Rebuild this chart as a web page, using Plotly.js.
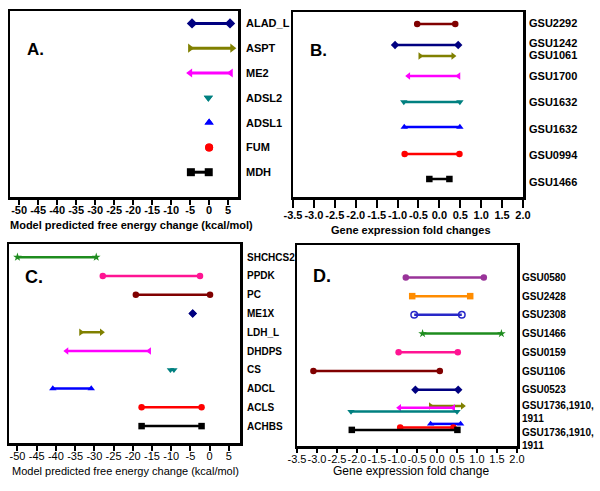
<!DOCTYPE html>
<html><head><meta charset="utf-8">
<script src="https://cdn.plot.ly/plotly-3.0.1.min.js"></script>
<style>html,body{margin:0;padding:0;background:#fff}#chart{width:600px;height:491px}</style>
</head><body><div id="chart"></div>
<script>
// ---------- Panel A: model predicted free energy change (kcal/mol) ----------
const aLabels = ['ALAD_L','ASPT','ME2','ADSL2','ADSL1','FUM','MDH'];
const aLow  = [-4.5, -5.0, -5.0, -0.2, 0.0, 0.0, -4.8];
const aHigh = [ 5.5,  6.1,  5.7, -0.2, 0.0, 0.0, -0.1];
const aRows = [7, 6, 5, 4, 3, 2, 1];

// ---------- Panel B: gene expression fold changes ----------
const bLabels = ['GSU2292','GSU1242','GSU1061','GSU1700','GSU1632','GSU1632','GSU0994','GSU1466'];
const bLow  = [-0.53, -1.06, -0.46, -0.74, -0.85, -0.84, -0.83, -0.24];
const bHigh = [ 0.38,  0.45,  0.33,  0.46,  0.49,  0.49,  0.48,  0.24];
const bRows = [7.2, 6.36, 5.92, 5.12, 4.08, 3.08, 2.0, 1.0];
const bLabelRows = [7.24, 6.43, 5.97, 5.12, 4.08, 3.0, 1.96, 0.88];

// ---------- Panel C: model predicted free energy change (kcal/mol) ----------
const cLabels = ['SHCHCS2','PPDK','PC','ME1X','LDH_L','DHDPS','CS','ADCL','ACLS','ACHBS'];
const cLow  = [-50.0, -27.8, -19.2, -4.4, -33.5, -37.2, -10.2, -40.8, -17.7, -17.7];
const cHigh = [-29.5,  -2.5,   0.1, -4.4, -28.1, -15.7,  -9.3, -30.8,  -2.1,  -2.1];
const cRows = [10, 9, 8, 7, 6, 5, 4, 3, 2, 1];

// ---------- Panel D: gene expression fold change ----------
const dNames = ['GSU0580','GSU2428','GSU2308','GSU1466','GSU0159','GSU1106','GSU0523',
                'GSU1736 a','GSU1910 a','GSU1911 a','GSU1736 b','GSU1910 b','GSU1911 b'];
const dLow  = [-0.78, -0.62, -0.57, -0.36, -0.96, -3.09, -0.54, -0.16, -0.94, -2.15, -0.16, -0.92, -2.13];
const dHigh = [ 1.17,  0.83,  0.62,  1.61,  0.52,  0.07,  0.53,  0.64,  0.41,  0.50,  0.59,  0.41,  0.51];
const dRows = [9, 8, 7, 6, 5, 4, 3, 2.14, 2.04, 1.84, 1.18, 0.99, 0.86];
const dLabels = ['GSU0580','GSU2428','GSU2308','GSU1466','GSU0159','GSU1106','GSU0523',
                 'GSU1736,1910,<br>1911','GSU1736,1910,<br>1911'];
const dLabelRows = [9, 8, 7, 6, 5, 4, 3, 1.81, 0.39];

// ---------- styles ----------
const aColors = ['#000080','#808000','#FF00FF','#008080','#0000FF','#FF0000','#000000'];
const aSymbols = ['diamond','triangle-right','triangle-left','triangle-down','triangle-up','circle','square'];
const bColors = ['#800000','#000080','#808000','#FF00FF','#008080','#0000FF','#FF0000','#000000'];
const bSymbols = ['circle','diamond','triangle-right','triangle-left','triangle-down','triangle-up','circle','square'];
const cColors = ['#1E8C1E','#FF1493','#800000','#000080','#808000','#FF00FF','#008080','#0000FF','#FF0000','#000000'];
const cSymbols = ['star','circle','circle','diamond','triangle-right','triangle-left','triangle-down','triangle-up','circle','square'];
const dColors = ['#993399','#FF8C00','#2828C8','#1E8C1E','#FF1493','#800000','#000080',
                 '#808000','#FF00FF','#008080','#0000FF','#FF0000','#000000'];
const dSymbols = ['circle','square','circle-open','star','circle','circle','diamond',
                  'triangle-right','triangle-left','triangle-down','triangle-up','circle','square'];

const FONT = 'Liberation Sans, Arial, Helvetica, sans-serif';
const W = 600, H = 491;
const traces = [];
const annotations = [];

function addPanel(low, high, rows, colors, symbols, xa, ya, lw, ms) {
  for (let i = 0; i < low.length; i++) {
    traces.push({
      type: 'scatter', mode: 'lines+markers',
      x: [low[i], high[i]], y: [rows[i], rows[i]],
      xaxis: xa, yaxis: ya,
      line: {color: colors[i], width: lw},
      marker: {color: colors[i], symbol: symbols[i], size: ms,
               line: {color: colors[i], width: symbols[i].indexOf('open') >= 0 ? 1.5 : 0}},
      hoverinfo: 'x', showlegend: false
    });
  }
}
function addLabels(labels, rows, yref, xpx, bold, size) {
  for (let i = 0; i < labels.length; i++) {
    annotations.push({
      text: labels[i], xref: 'paper', yref: yref, x: xpx / W, y: rows[i],
      xanchor: 'left', yanchor: 'middle', showarrow: false, align: 'left',
      font: {family: FONT, size: size, color: '#000', weight: bold ? 'bold' : 'normal'}
    });
  }
}
function paperText(text, xpx, ypx, size, bold, anchor) {
  annotations.push({
    text: text, xref: 'paper', yref: 'paper', x: xpx / W, y: 1 - ypx / H,
    xanchor: anchor || 'center', yanchor: 'middle', showarrow: false,
    font: {family: FONT, size: size, color: '#000', weight: bold ? 'bold' : 'normal'}
  });
}

addPanel(aLow, aHigh, aRows, aColors, aSymbols, 'x', 'y', 3, 8);
addPanel(bLow, bHigh, bRows, bColors, bSymbols, 'x2', 'y2', 2.5, 6.5);
addPanel(cLow, cHigh, cRows, cColors, cSymbols, 'x3', 'y3', 2.5, 6.5);
addPanel(dLow, dHigh, dRows, dColors, dSymbols, 'x4', 'y4', 2.5, 6.5);

addLabels(aLabels, aRows, 'y', 244, true, 11);
addLabels(bLabels, bLabelRows, 'y2', 527, true, 11);
addLabels(cLabels, cRows, 'y3', 245, true, 10);
addLabels(dLabels, dLabelRows, 'y4', 520, true, 10);

paperText('A.', 25, 49, 17, true, 'left');
paperText('B.', 308, 50, 17, true, 'left');
paperText('C.', 23, 277, 18, true, 'left');
paperText('D.', 311, 276, 18, true, 'left');
paperText('Model predicted free energy change (kcal/mol)', 131, 225, 11, true);
paperText('Gene expression fold changes', 411, 230, 11, true);
paperText('Model predicted free energy change (kcal/mol)', 125, 471, 11, false);
paperText('Gene expression fold change', 411, 471, 12, false);

function xAxis(domainPx, range, tickvals, ticktext, bold, ticklen, standoff, anchor) {
  return {
    domain: [domainPx[0] / W, domainPx[1] / W], range: range, anchor: anchor,
    tickmode: 'array', tickvals: tickvals, ticktext: ticktext, tickangle: 0,
    ticks: 'outside', ticklen: ticklen, tickwidth: 2, tickcolor: '#000',
    ticklabelstandoff: standoff,
    showline: true, linewidth: 2.5, linecolor: '#000', mirror: true,
    showgrid: false, zeroline: false, fixedrange: true,
    tickfont: {family: FONT, size: 11, color: '#000', weight: bold ? 'bold' : 'normal'}
  };
}
function yAxis(domainPx, range, anchor) {
  return {
    domain: [1 - domainPx[1] / H, 1 - domainPx[0] / H], range: range, anchor: anchor,
    showticklabels: false, ticks: '', showline: true, linewidth: 2.5, linecolor: '#000',
    mirror: true, showgrid: false, zeroline: false, fixedrange: true
  };
}

const energyTicks = [-50,-45,-40,-35,-30,-25,-20,-15,-10,-5,0,5];
const energyText = energyTicks.map(String);
const foldTicks = [-3.5,-3.0,-2.5,-2.0,-1.5,-1.0,-0.5,0.0,0.5,1.0,1.5,2.0];
const foldText = foldTicks.map(v => v.toFixed(1));

const layout = {
  width: W, height: H, margin: {l: 0, r: 0, t: 0, b: 0},
  paper_bgcolor: '#fff', plot_bgcolor: '#fff', showlegend: false,
  font: {family: FONT, color: '#000'},
  xaxis:  xAxis([10, 238], [-52.4, 7.6], energyTicks, energyText, true, 5, -4, 'y'),
  yaxis:  yAxis([11, 197], [0, 7.5], 'x'),
  xaxis2: xAxis([293, 523], [-3.5, 2.0], foldTicks, foldText, true, 8, -2, 'y2'),
  yaxis2: yAxis([12, 197], [0.28, 7.68], 'x2'),
  xaxis3: xAxis([9, 240], [-52.2, 7.9], energyTicks, energyText, false, 5, -4, 'y3'),
  yaxis3: yAxis([244, 443], [0.1, 10.7], 'x3'),
  xaxis4: xAxis([297, 517], [-3.5, 2.0], foldTicks, foldText, false, 4, -3, 'y4'),
  yaxis4: yAxis([245, 446], [0, 10.73], 'x4'),
  annotations: annotations
};

Plotly.newPlot('chart', traces, layout, {displayModeBar: false, staticPlot: true});
</script>
</body></html>
